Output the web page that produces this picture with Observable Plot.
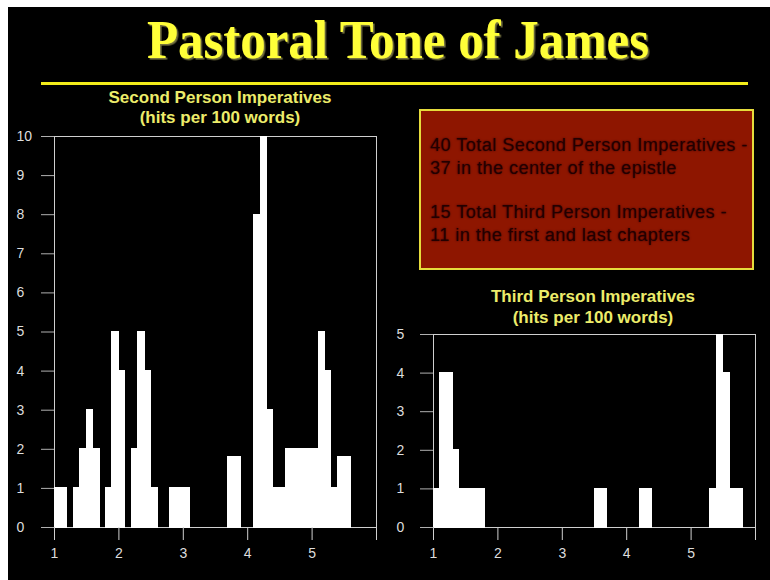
<!DOCTYPE html>
<html><head><meta charset="utf-8">
<script src="https://cdn.jsdelivr.net/npm/d3@7"></script>
<script src="https://cdn.jsdelivr.net/npm/@observablehq/plot@0.6"></script>
<style>
body{margin:0;background:#fff;}
#slide{position:relative;width:770px;height:580px;background:#fff;overflow:hidden;font-family:"Liberation Sans",Arial,sans-serif;}
#bg{position:absolute;left:8px;top:7px;right:0;bottom:0;background:#000;}
#rule{position:absolute;left:41px;top:82px;width:707px;height:3px;background:#f2ec1a;}
.sub{position:absolute;text-align:center;font-weight:bold;font-size:17px;line-height:20px;color:#ecec6a;white-space:nowrap;}
#note{position:absolute;left:419px;top:109px;width:335px;height:161px;box-sizing:border-box;border:2px solid #e6dc3c;background:#8e1600;padding:23px 0 0 9px;}
#note div{font-size:18px;line-height:22.5px;letter-spacing:0.5px;color:#220000;text-shadow:0 0 2px #3a0000;white-space:nowrap;}
#note div.gap{margin-top:22px;}
.chart{position:absolute;}
</style></head><body>
<div id="slide">
  <div id="bg"></div>
  <svg id="title" width="770" height="90" style="position:absolute;left:0;top:0">
    <defs>
      <filter id="emboss" x="-5%" y="-20%" width="110%" height="140%">
        <feDropShadow dx="1.6" dy="1.6" stdDeviation="0.3" flood-color="#77733f" flood-opacity="1"/>
      </filter>
    </defs>
  </svg>
  <div id="rule"></div>
  <div id="sub1" class="sub"></div>
  <div id="sub2" class="sub"></div>
  <div id="note"></div>
  <div id="chart1" class="chart" style="left:0;top:120px"></div>
  <div id="chart2" class="chart" style="left:380px;top:325px"></div>
</div>
<script>
const TITLE = "Pastoral Tone of James";
const secondTitle = ["Second Person Imperatives", "(hits per 100 words)"];
const thirdTitle = ["Third Person Imperatives", "(hits per 100 words)"];
const noteLines = [
  "40 Total Second Person Imperatives -",
  "37 in the center of the epistle",
  "15 Total Third Person Imperatives -",
  "11 in the first and last chapters"
];

const BIN_WIDTH = 0.1;
const secondBins = [1.0,1.1,1.3,1.4,1.5,1.6,1.8,1.9,2.0,2.2,2.3,2.4,2.5,2.8,2.9,3.0,3.7,3.8,4.1,4.2,4.3,4.4,4.5,4.6,4.7,4.8,4.9,5.0,5.1,5.2,5.3,5.4,5.5];
const secondHits = [1,1,1,2,3,2,1,5,4,2,5,4,1,1,1,1,1.8,1.8,8,10,3,1,1,2,2,2,2,2,5,4,1,1.8,1.8];
const thirdBins = [1.0,1.1,1.2,1.3,1.4,1.5,1.6,1.7,3.5,3.6,4.2,4.3,5.3,5.4,5.5,5.6,5.7];
const thirdHits = [1,4,4,2,1,1,1,1,1,1,1,1,1,5,4,1,1];

const xTicks = [1,2,3,4,5,6];
const xTickLabels = ["1","2","3","4","5",""];
const secondYTicks = [0,1,2,3,4,5,6,7,8,9,10];
const thirdYTicks = [0,1,2,3,4,5];

// title
d3.select("#title").append("text").attr("x",147).attr("y",58)
  .attr("textLength",502).attr("lengthAdjust","spacingAndGlyphs")
  .attr("font-family","'Liberation Serif','Times New Roman',serif")
  .attr("font-weight","bold").attr("font-size",55).attr("fill","#ffff38")
  .attr("filter","url(#emboss)").text(TITLE);

const s1 = document.getElementById("sub1");
s1.style.left = "100px"; s1.style.width = "240px"; s1.style.top = "88px";
s1.innerHTML = secondTitle.join("<br>");
const s2 = document.getElementById("sub2");
s2.style.left = "473px"; s2.style.width = "240px"; s2.style.top = "286px";
s2.style.lineHeight = "21px";
s2.innerHTML = thirdTitle.join("<br>");

const note = document.getElementById("note");
noteLines.forEach((t,i) => {
  const d = document.createElement("div");
  d.textContent = t;
  if (i === 2) d.className = "gap";
  note.appendChild(d);
});

function bins(starts, hits) {
  return starts.map((x,i) => ({x1: x, x2: Math.round((x + BIN_WIDTH)*100)/100, hits: hits[i]}));
}

function hist(data, yMax, yTicks, dims) {
  return Plot.plot({
    width: dims.width, height: dims.height,
    marginLeft: dims.ml, marginRight: dims.mr, marginTop: dims.mt, marginBottom: dims.mb,
    style: {background: "transparent", color: "#dddddd", fontSize: "14px", fontFamily: "'Liberation Sans',Arial,sans-serif"},
    x: {domain: [1,6], label: null},
    y: {domain: [0,yMax], label: null},
    marks: [
      Plot.frame({stroke: "#cfcfcf"}),
      Plot.rectY(data, {x1: "x1", x2: "x2", y: "hits", fill: "white", stroke: "white", strokeWidth: 1, inset: 0, shapeRendering: "crispEdges"}),
      Plot.axisY({ticks: yTicks, tickSize: 13, tickPadding: dims.ypad, textAnchor: "start", stroke: "#b0b0b0", fill: "#dddddd", label: null, tickFormat: d => String(d)}),
      Plot.axisX({ticks: xTicks, tickSize: 13, tickPadding: 8, stroke: "#d0d0d0", fill: "#dddddd", label: null, tickFormat: d => xTickLabels[xTicks.indexOf(d)]})
    ]
  });
}

document.getElementById("chart1").appendChild(
  hist(bins(secondBins, secondHits), 10, secondYTicks, {width: 390, height: 440, ml: 54, mr: 14, mt: 16, mb: 33, ypad: 25})
);
document.getElementById("chart2").appendChild(
  hist(bins(thirdBins, thirdHits), 5, thirdYTicks, {width: 390, height: 235, ml: 53, mr: 15, mt: 9, mb: 33, ypad: 24})
);
</script>
</body></html>
